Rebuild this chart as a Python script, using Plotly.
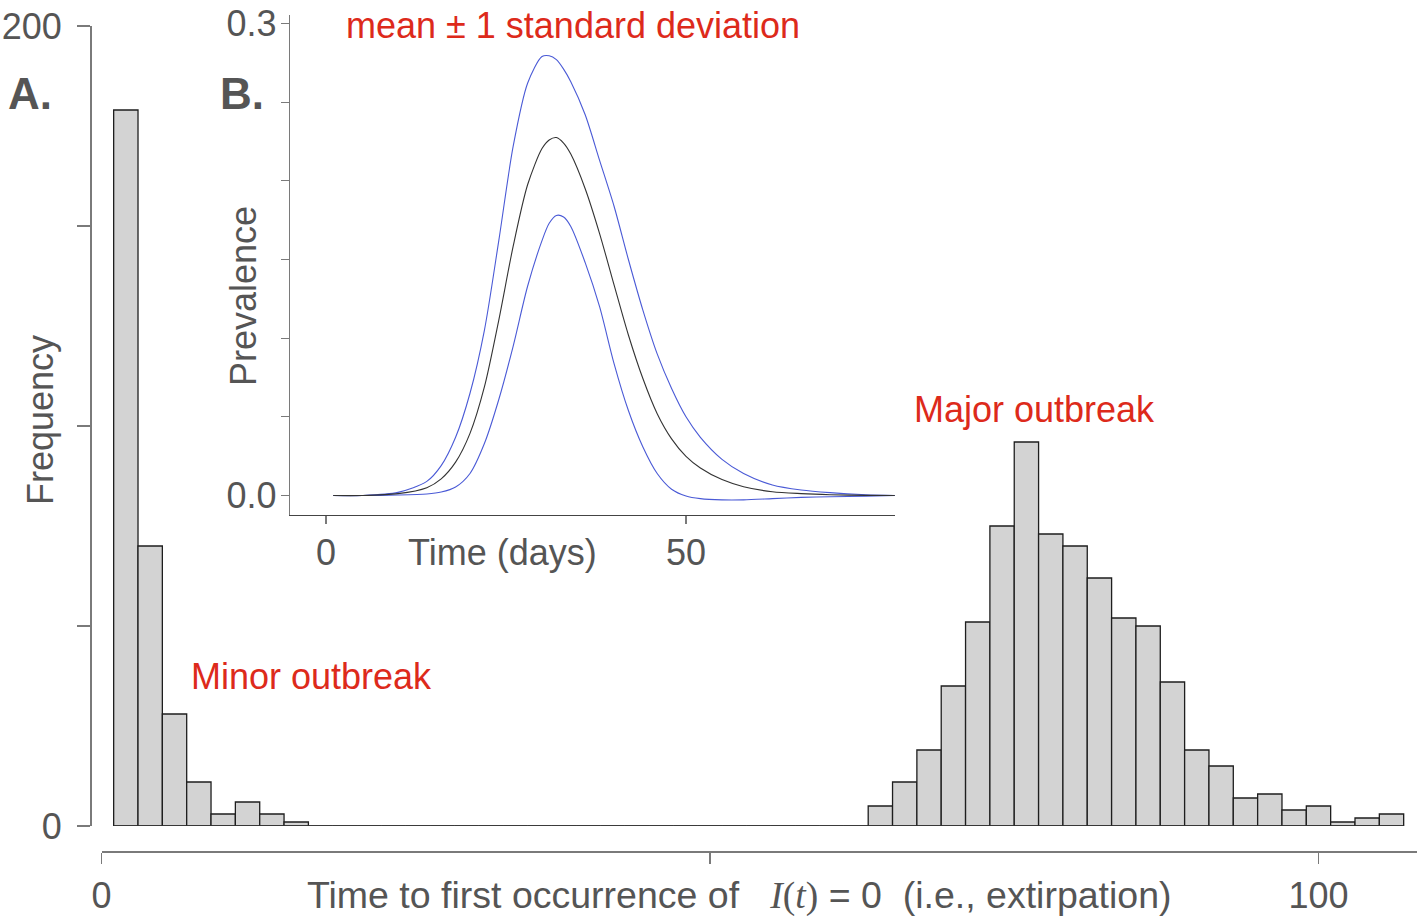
import plotly.graph_objects as go

W, H = 1423, 916

# ---------------- Panel A: histogram of time to extirpation ----------------
bin_width = 2
bin_left = list(range(1, 107, 2))  # 53 bins: [1,3), [3,5), ..., [105,107)
counts = ([179, 70, 28, 11, 3, 6, 3, 1]
          + [0] * 23
          + [5, 11, 19, 35, 51, 75, 96, 73, 70, 62, 52, 50, 36, 19, 15, 7, 8, 4, 5, 1, 2, 3])
bin_centers = [b + bin_width / 2 for b in bin_left]

# ---------------- Panel B: prevalence mean +/- 1 SD ----------------
days = [1, 5, 10, 14, 16, 18, 20, 22, 24, 26, 28, 30, 31, 32, 33, 34, 36, 38, 40,
        42, 44, 46, 48, 50, 52, 55, 58, 62, 66, 70, 75, 79]
prev_upper = [0.0, 0.0, 0.002, 0.009, 0.019, 0.037, 0.065, 0.105, 0.162, 0.222, 0.262,
              0.279, 0.2795, 0.277, 0.271, 0.263, 0.242, 0.213, 0.184, 0.150, 0.118,
              0.090, 0.068, 0.050, 0.037, 0.023, 0.014, 0.0067, 0.0035, 0.0018, 0.0005, 0.0]
prev_mean = [0.0, 0.0, 0.0012, 0.005, 0.0106, 0.0212, 0.0395, 0.069, 0.1115, 0.1585, 0.1975,
             0.2205, 0.226, 0.2275, 0.224, 0.217, 0.195, 0.1665, 0.134, 0.102, 0.0745,
             0.052, 0.036, 0.0249, 0.0175, 0.0101, 0.0056, 0.0024, 0.0012, 0.0005, 0.0001, 0.0]
prev_lower = [0.0, 0.0, 0.0003, 0.001, 0.0022, 0.0054, 0.014, 0.033, 0.061, 0.095, 0.133,
              0.162, 0.173, 0.178, 0.177, 0.171, 0.148, 0.120, 0.084, 0.054, 0.031,
              0.014, 0.004, -0.0003, -0.002, -0.0028, -0.0028, -0.002, -0.0012, -0.0008, -0.0004, 0.0]

main_yticks = [0, 50, 100, 150, 200]
main_yticktext = ["0", "", "", "", "200"]
main_xticks = [0, 50, 100]
main_xticktext = ["0", "", "100"]
inset_yticks = [0, 0.05, 0.1, 0.15, 0.2, 0.25, 0.3]
inset_yticktext = ["0.0", "", "", "", "", "", "0.3"]
inset_xticks = [0, 50]
inset_xticktext = ["0", "50"]

FONT = "Helvetica Neue, Helvetica, Liberation Sans, Arial, sans-serif"
GREY = "#555555"
AXIS = "#7a7a7a"
RED = "#dd2a1b"
BLUE = "#4a5ad6"


def fx(px):
    return px / W


def fy(py):
    return 1 - py / H


fig = go.Figure()

fig.add_trace(go.Bar(
    x=bin_centers, y=counts, width=bin_width,
    marker=dict(color="#d3d3d3", line=dict(color="#1e1e1e", width=1.3)),
    xaxis="x", yaxis="y", showlegend=False, hoverinfo="skip",
))
# baseline under the (empty) bins
fig.add_trace(go.Scatter(
    x=[bin_left[0], bin_left[-1] + bin_width], y=[0, 0], mode="lines",
    line=dict(color="#333333", width=1.3), xaxis="x", yaxis="y",
    showlegend=False, hoverinfo="skip",
))

for ys, col in [(prev_upper, BLUE), (prev_lower, BLUE), (prev_mean, "#333333")]:
    fig.add_trace(go.Scatter(
        x=days, y=ys, mode="lines",
        line=dict(color=col, width=1.1, shape="spline", smoothing=0.8),
        xaxis="x2", yaxis="y2", showlegend=False, hoverinfo="skip",
    ))

tickfont = dict(family=FONT, size=36, color=GREY)
common = dict(showgrid=False, zeroline=False, fixedrange=True, automargin=False)

fig.update_layout(
    width=W, height=H,
    margin=dict(l=0, r=0, t=0, b=0, pad=0, autoexpand=False),
    paper_bgcolor="white", plot_bgcolor="rgba(0,0,0,0)",
    bargap=0,
    font=dict(family=FONT, color=GREY),
    xaxis=dict(
        domain=[fx(101.5), fx(1416.7)], range=[0, 108.07],
        anchor="free", position=fy(851),
        showline=True, linecolor=AXIS, linewidth=1.5,
        ticks="outside", ticklen=11, tickwidth=1.5, tickcolor=AXIS,
        tickvals=main_xticks, ticktext=main_xticktext, tickfont=tickfont,
        ticklabelstandoff=1, **common,
    ),
    yaxis=dict(
        domain=[fy(826), fy(26)], range=[0, 200],
        anchor="free", position=fx(90),
        showline=True, linecolor=AXIS, linewidth=1.5,
        ticks="outside", ticklen=13, tickwidth=1.5, tickcolor=AXIS,
        tickvals=main_yticks, ticktext=main_yticktext, tickfont=tickfont,
        ticklabelstandoff=8, **common,
    ),
    xaxis2=dict(
        domain=[fx(290), fx(895)], range=[-5, 79.03],
        anchor="y2",
        showline=True, linecolor="#444444", linewidth=1.3,
        ticks="outside", ticklen=8, tickwidth=1.3, tickcolor=AXIS,
        tickvals=inset_xticks, ticktext=inset_xticktext, tickfont=tickfont,
        ticklabelstandoff=-3, **common,
    ),
    yaxis2=dict(
        domain=[fy(515), fy(15)], range=[-0.01239, 0.3054],
        anchor="x2",
        showline=True, linecolor=AXIS, linewidth=1.3,
        ticks="outside", ticklen=8, tickwidth=1.3, tickcolor=AXIS,
        tickvals=inset_yticks, ticktext=inset_yticktext, tickfont=tickfont,
        ticklabelstandoff=-3, **common,
    ),
)

ann_font = dict(family=FONT, size=36, color=GREY)
title_font = dict(family=FONT, size=37.5, color=GREY)
red_font = dict(family=FONT, size=36, color=RED)
bold_font = dict(family=FONT, size=44, color=GREY)

annotations = [
    dict(text="Frequency", x=fx(40), y=fy(420), textangle=-90, font=ann_font),
    dict(text="Prevalence", x=fx(243), y=fy(296), textangle=-90, font=ann_font),
    dict(text="Time (days)", x=fx(502), y=fy(552), font=ann_font),
    dict(text="Time to first occurrence of   "
              "<span style='font-family:Liberation Serif, Times New Roman, serif'><i>I</i>(<i>t</i>)</span>"
              " = 0  (i.e., extirpation)",
         x=fx(739), y=fy(895), font=title_font),
    dict(text="<b>A.</b>", x=fx(30), y=fy(94), font=bold_font),
    dict(text="<b>B.</b>", x=fx(242), y=fy(94), font=bold_font),
    dict(text="mean ± 1 standard deviation", x=fx(573), y=fy(25), font=red_font),
    dict(text="Minor outbreak", x=fx(311), y=fy(676), font=red_font),
    dict(text="Major outbreak", x=fx(1034), y=fy(409), font=red_font),
]
for a in annotations:
    a.update(xref="paper", yref="paper", xanchor="center", yanchor="middle",
             showarrow=False)
fig.update_layout(annotations=annotations)

fig.write_html(
    "out.html",
    config={"displayModeBar": False, "staticPlot": True},
    post_script="document.body.style.margin='0px';document.body.style.padding='0px';",
)
